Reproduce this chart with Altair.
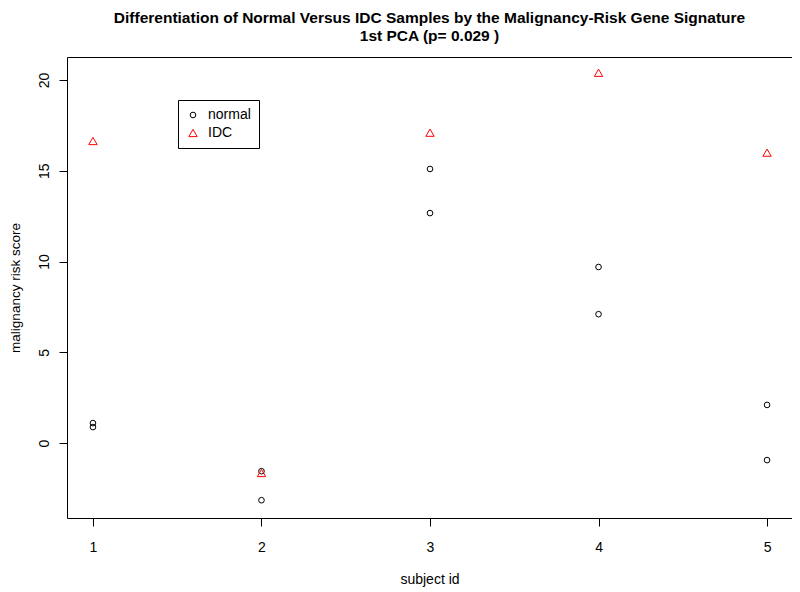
import altair as alt
import pandas as pd

subjects_normal = [1, 1, 2, 2, 3, 3, 4, 4, 5, 5]
values_normal = [1.1, 0.88, -1.55, -3.15, 15.1, 12.67, 9.7, 7.1, 2.1, -0.94]
subjects_idc = [1, 2, 3, 4, 5]
values_idc = [16.64, -1.65, 17.1, 20.4, 16.0]

rows = [{"subject": s, "score": v, "group": "normal"} for s, v in zip(subjects_normal, values_normal)]
rows += [{"subject": s, "score": v, "group": "IDC"} for s, v in zip(subjects_idc, values_idc)]
df = pd.DataFrame(rows)

font = "Liberation Sans"

chart = alt.Chart(df).mark_point(filled=False, strokeWidth=1, opacity=1).encode(
    x=alt.X("subject:Q", scale=alt.Scale(domain=[0.846, 5.148], nice=False, zero=False),
            axis=alt.Axis(values=[1, 2, 3, 4, 5], title="subject id", format="d",
                          labelPadding=14, titlePadding=18)),
    y=alt.Y("score:Q", scale=alt.Scale(domain=[-4.13, 21.27], nice=False, zero=False),
            axis=alt.Axis(values=[0, 5, 10, 15, 20], title="malignancy risk score", labelAngle=270,
                          labelPadding=8, titlePadding=15, titleFontSize=13.5)),
    color=alt.Color("group:N", scale=alt.Scale(domain=["normal", "IDC"], range=["black", "red"]),
                    legend=alt.Legend(title=None, orient="none", legendX=111, legendY=43,
                                      strokeColor="black", padding=8, labelFontSize=14,
                                      labelFont=font, labelColor="black", symbolStrokeWidth=1,
                                      rowPadding=4, labelOffset=8, fillColor="white")),
    shape=alt.Shape("group:N", scale=alt.Scale(domain=["normal", "IDC"], range=["circle", "triangle-up"])),
    size=alt.Size("group:N", scale=alt.Scale(domain=["normal", "IDC"], range=[32, 70])),
).properties(
    width=725, height=461,
    title=alt.TitleParams(
        text=["Differentiation of Normal Versus IDC Samples by the Malignancy-Risk Gene Signature",
              "1st PCA (p= 0.029 )"],
        font=font, fontSize=15.5, fontWeight="bold", anchor="middle", color="black",
        offset=13, lineHeight=18),
    autosize=alt.AutoSizeParams(type="none"),
    padding={"left": 59, "top": 49, "right": 0, "bottom": 74},
).configure_view(stroke="black", strokeWidth=1).configure_axis(
    grid=False, domain=False, tickColor="black", tickSize=8, labelColor="black",
    labelFont=font, labelFontSize=14, titleFont=font, titleFontSize=14,
    titleFontWeight="normal", titleColor="black",
)

chart.save("out.html", embed_options={"renderer": "svg", "actions": False})
